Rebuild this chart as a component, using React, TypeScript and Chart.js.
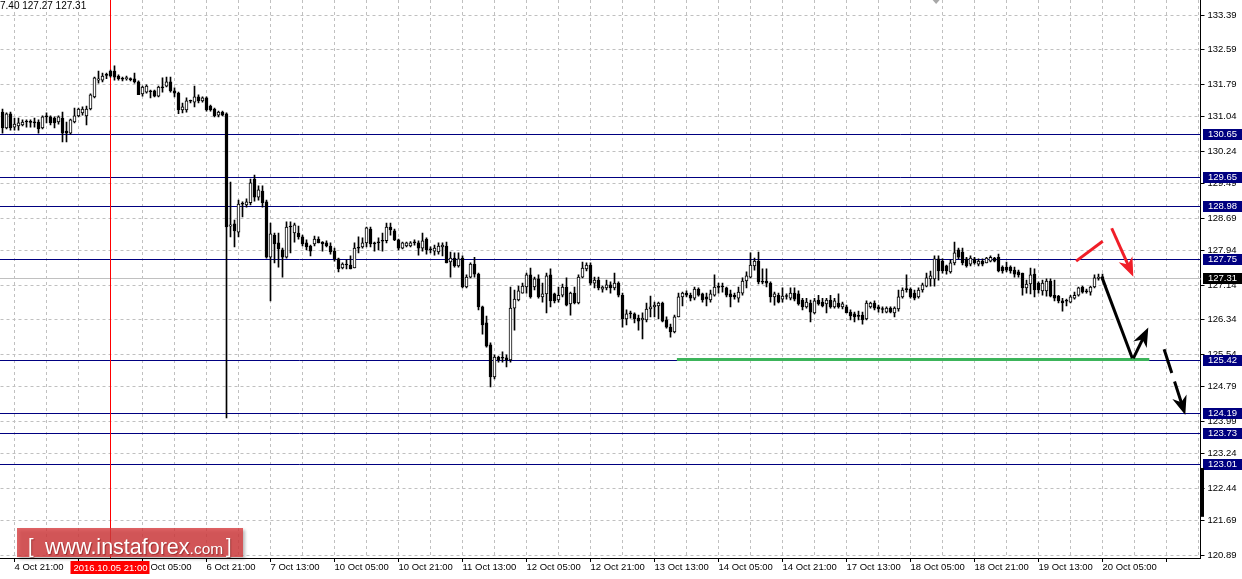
import { useEffect, useRef } from 'react';
import { Chart, registerables } from 'chart.js';

Chart.register(...registerables);

// ---------- data (GBPJPY H1, 4 Oct 18:00 -> 20 Oct 09:00) ----------
const openPrices = [
  131.15,130.78,131.11,130.80,130.83,130.85,130.92,130.92,130.90,130.92,
  130.78,131.04,131.04,131.01,130.92,131.01,130.71,130.66,130.92,131.06,
  131.13,131.06,131.22,131.50,131.89,131.89,132.00,132.10,132.10,131.98,
  131.92,131.92,131.92,131.92,131.85,131.57,131.61,131.64,131.64,131.52,
  131.73,131.75,131.85,131.64,131.59,131.20,131.20,131.40,131.38,131.50,
  131.41,131.48,131.29,131.22,131.08,131.15,131.11,128.51,128.56,128.37,
  129.02,129.00,129.05,129.60,129.18,129.32,129.07,127.79,128.30,128.12,
  127.96,127.79,128.51,128.35,128.35,128.26,128.12,128.05,128.10,128.21,
  128.14,128.12,128.05,127.93,127.75,127.54,127.62,127.61,127.54,128.00,
  128.03,128.12,128.44,128.10,128.12,128.16,128.17,128.49,128.40,128.19,
  128.00,128.05,128.05,128.12,128.12,128.00,128.21,127.96,127.93,127.91,
  128.03,128.05,127.68,127.77,127.59,127.77,127.10,127.33,127.63,127.40,
  126.64,126.27,125.76,125.02,125.48,125.45,125.46,125.41,126.61,126.80,
  126.96,127.10,127.38,127.10,127.29,126.87,126.94,127.38,126.94,126.80,
  126.91,127.10,126.71,126.96,126.73,127.33,127.52,127.61,127.19,127.26,
  127.05,127.08,127.15,127.08,127.19,126.91,126.36,126.48,126.48,126.38,
  126.34,126.34,126.59,126.64,126.66,126.73,126.34,126.17,126.06,126.41,
  126.87,126.96,126.91,126.84,127.05,126.94,126.87,126.80,126.91,127.10,
  127.10,127.08,126.94,126.91,126.84,126.96,127.24,127.33,127.59,127.70,
  127.21,127.24,127.19,126.87,126.91,126.82,126.88,126.84,126.96,126.94,
  126.80,126.64,126.73,126.50,126.80,126.75,126.71,126.80,126.64,126.73,
  126.64,126.64,126.52,126.48,126.43,126.45,126.36,126.64,126.73,126.64,
  126.59,126.52,126.61,126.50,126.59,126.87,127.04,127.05,126.96,126.87,
  127.03,127.12,127.29,127.29,127.75,127.70,127.59,127.45,127.66,127.96,
  127.91,127.75,127.63,127.75,127.63,127.70,127.66,127.70,127.77,127.79,
  127.56,127.56,127.56,127.49,127.45,127.42,127.08,127.17,127.40,127.19,
  127.01,127.01,127.24,126.91,126.89,126.78,126.77,126.75,126.84,126.91,
  127.10,126.99,126.98,127.10,127.30,127.33,
];
const highPrices = [
  131.22,131.13,131.15,131.01,131.01,130.97,130.97,130.97,131.01,130.97,
  131.06,131.13,131.06,131.04,131.06,131.15,130.92,130.99,131.24,131.24,
  131.27,131.29,131.57,131.96,132.10,132.05,132.05,132.12,132.22,132.01,
  131.96,131.98,131.94,132.05,131.87,131.75,131.78,131.66,131.66,131.75,
  131.94,131.96,131.96,131.71,131.61,131.36,131.48,131.43,131.75,131.55,
  131.50,131.50,131.31,131.24,131.17,131.17,131.13,129.53,128.65,129.11,
  129.07,129.14,129.60,129.69,129.44,129.44,129.11,128.58,128.35,128.35,
  128.00,128.61,128.61,128.58,128.51,128.30,128.19,128.07,128.28,128.26,
  128.15,128.17,128.12,128.00,127.77,127.66,127.73,127.82,128.12,128.26,
  128.24,128.49,128.49,128.14,128.24,128.35,128.58,128.58,128.44,128.21,
  128.14,128.14,128.15,128.19,128.17,128.35,128.24,128.03,128.07,128.12,
  128.12,128.14,127.91,127.89,127.89,127.82,127.38,127.66,127.79,127.42,
  126.66,126.43,125.81,125.53,125.50,125.60,125.53,127.10,127.03,127.12,
  127.19,127.42,127.54,127.33,127.38,127.19,127.42,127.52,126.96,127.10,
  127.17,127.31,126.98,127.10,127.38,127.68,127.66,127.66,127.33,127.33,
  127.12,127.26,127.22,127.42,127.22,126.96,126.57,126.54,126.50,126.45,
  126.50,126.73,126.89,126.75,126.75,126.75,126.41,126.24,126.45,126.96,
  126.98,127.01,126.96,127.10,127.08,126.96,126.96,127.03,127.38,127.19,
  127.19,127.10,127.03,126.96,127.10,127.31,127.45,127.89,127.77,127.91,
  127.52,127.52,127.22,126.98,126.96,127.08,126.94,127.08,127.08,127.01,
  126.84,126.84,126.80,126.84,126.91,126.84,126.84,126.91,126.84,126.94,
  126.75,126.68,126.57,126.52,126.54,126.52,126.78,126.75,126.78,126.68,
  126.64,126.64,126.64,126.64,127.03,127.08,127.38,127.08,127.03,127.08,
  127.19,127.42,127.47,127.82,127.82,127.75,127.61,127.73,128.14,128.00,
  128.00,127.79,127.82,127.79,127.75,127.75,127.79,127.82,127.79,127.86,
  127.59,127.68,127.59,127.56,127.49,127.42,127.26,127.54,127.52,127.22,
  127.26,127.29,127.29,127.26,126.91,126.84,126.82,126.91,126.98,127.10,
  127.12,127.05,127.12,127.38,127.40,127.40,
];
const lowPrices = [
  130.66,130.76,130.73,130.73,130.73,130.83,130.80,130.80,130.80,130.66,
  130.76,130.90,130.85,130.78,130.87,130.46,130.46,130.64,130.90,131.04,
  131.08,130.85,131.20,131.48,131.82,131.85,131.92,131.96,131.89,131.89,
  131.87,131.89,131.87,131.82,131.55,131.52,131.59,131.48,131.50,131.50,
  131.61,131.73,131.61,131.50,131.11,131.13,131.15,131.36,131.27,131.36,
  131.38,131.17,131.17,131.04,131.04,131.06,124.07,128.26,128.03,128.26,
  128.72,128.95,129.00,129.09,129.11,128.95,127.77,126.78,127.66,127.56,
  127.33,127.77,127.89,128.14,128.21,128.05,127.96,127.82,128.05,128.12,
  127.93,128.03,127.86,127.70,127.45,127.52,127.52,127.52,127.54,127.89,
  128.00,128.03,128.03,127.93,127.96,127.93,128.12,128.30,128.17,127.96,
  127.98,128.03,128.03,128.07,127.84,127.93,127.86,127.89,127.84,127.86,
  127.82,127.66,127.33,127.56,127.56,127.08,127.08,127.31,127.33,126.57,
  126.01,125.71,124.79,124.97,125.36,125.36,125.25,125.36,126.10,126.78,
  126.96,126.96,126.84,127.03,126.84,126.75,126.50,126.64,126.73,126.75,
  126.87,126.66,126.45,126.71,126.71,127.31,127.47,127.15,127.08,127.03,
  126.98,127.03,126.96,127.03,126.87,126.17,126.22,126.38,126.27,126.10,
  125.90,126.29,126.41,126.41,126.36,126.29,126.15,125.94,126.04,126.41,
  126.66,126.87,126.78,126.80,126.89,126.75,126.66,126.75,126.89,126.96,
  126.98,126.87,126.64,126.82,126.75,126.91,127.08,127.31,127.49,127.17,
  127.17,127.10,126.75,126.68,126.73,126.75,126.82,126.80,126.78,126.68,
  126.57,126.61,126.29,126.48,126.68,126.64,126.50,126.61,126.61,126.61,
  126.59,126.50,126.34,126.29,126.34,126.24,126.34,126.61,126.57,126.52,
  126.50,126.50,126.50,126.41,126.54,126.84,126.98,126.84,126.80,126.84,
  126.98,127.10,127.12,127.12,127.26,127.42,127.40,127.42,127.61,127.75,
  127.61,127.56,127.59,127.63,127.59,127.59,127.66,127.68,127.68,127.45,
  127.42,127.45,127.42,127.33,127.33,126.91,126.96,126.94,126.87,126.96,
  126.91,126.89,126.87,126.78,126.73,126.54,126.66,126.73,126.82,126.89,
  126.96,126.96,126.91,127.08,127.26,127.27,
];
const closePrices = [
  130.78,131.11,130.78,130.87,130.90,130.92,130.92,130.91,130.92,130.76,
  131.04,131.04,130.90,130.90,131.04,130.66,130.66,130.97,131.06,131.22,
  131.22,131.22,131.55,131.94,131.92,131.98,132.01,131.98,131.96,131.92,
  131.91,131.95,131.90,131.85,131.55,131.73,131.75,131.62,131.52,131.73,
  131.71,131.85,131.64,131.59,131.20,131.27,131.41,131.41,131.50,131.41,
  131.48,131.20,131.20,131.06,131.15,131.08,128.49,128.54,128.40,129.02,
  129.03,129.07,129.51,129.18,129.35,129.05,127.79,128.33,128.10,127.98,
  127.79,128.49,128.49,128.54,128.26,128.10,128.03,127.93,128.21,128.12,
  128.10,128.05,127.91,127.75,127.52,127.63,127.61,127.52,128.00,128.00,
  128.12,128.47,128.10,128.12,128.13,128.17,128.49,128.42,128.19,128.00,
  128.12,128.12,128.12,128.13,128.00,128.17,127.96,127.97,128.00,128.05,
  128.07,127.66,127.77,127.59,127.75,127.10,127.33,127.63,127.40,126.64,
  126.22,125.73,125.02,125.48,125.41,125.46,125.41,126.61,126.82,127.01,
  127.12,127.38,126.87,127.29,126.87,126.94,127.36,126.78,126.78,126.91,
  127.10,126.68,126.96,126.73,127.33,127.54,127.61,127.19,127.26,127.08,
  127.10,127.15,127.08,127.19,126.91,126.36,126.48,126.49,126.36,126.31,
  126.38,126.59,126.64,126.68,126.73,126.31,126.17,126.06,126.41,126.87,
  126.96,126.91,126.84,127.05,126.91,126.80,126.82,126.94,127.10,127.09,
  127.10,126.91,126.87,126.87,126.98,127.24,127.36,127.61,127.70,127.22,
  127.22,127.19,126.87,126.94,126.75,126.89,126.88,126.96,126.82,126.71,
  126.64,126.75,126.52,126.78,126.71,126.66,126.80,126.64,126.78,126.64,
  126.71,126.50,126.43,126.41,126.42,126.34,126.73,126.73,126.61,126.59,
  126.58,126.61,126.52,126.61,126.87,127.03,127.05,126.87,126.84,127.03,
  127.15,127.31,127.36,127.75,127.47,127.47,127.47,127.66,127.89,127.79,
  127.66,127.59,127.77,127.66,127.70,127.63,127.77,127.79,127.70,127.47,
  127.47,127.49,127.47,127.40,127.38,127.08,127.17,127.38,127.03,127.03,
  127.19,127.24,126.89,126.84,126.78,126.73,126.78,126.87,126.91,127.08,
  126.98,127.00,127.10,127.31,127.33,127.31,
];

// time axis: one slot per hour, labels every 16 bars starting at slot 3
const SLOT_COUNT = 300;
const FIRST_LABEL_SLOT = 3;
const LABEL_STEP = 16;
const GRID_STEP = 8;
const xTickLabels = [
  '4 Oct 21:00', '5 Oct 13:00', '6 Oct 05:00', '6 Oct 21:00', '7 Oct 13:00',
  '10 Oct 05:00', '10 Oct 21:00', '11 Oct 13:00', '12 Oct 05:00', '12 Oct 21:00',
  '13 Oct 13:00', '14 Oct 05:00', '14 Oct 21:00', '17 Oct 13:00', '18 Oct 05:00',
  '18 Oct 21:00', '19 Oct 13:00', '20 Oct 05:00',
];
const yTickValues = [
  133.39, 132.59, 131.79, 131.04, 130.24, 129.49, 128.69, 127.94, 127.14,
  126.34, 125.54, 124.79, 123.99, 123.24, 122.44, 121.69, 120.89,
];
const Y_MIN = 120.827;
const Y_MAX = 133.744;

const levelPrices = [130.65, 129.65, 128.98, 127.75, 125.42, 124.19, 123.73, 123.01];
const currentPrice = 127.31;
const markerSlot = 27; // 2016.10.05 21:00
const markerLabel = '2016.10.05 21:00';
const supportSegment = [[168.6, 125.42], [286.7, 125.42]];
const blackDrop = [[274.8, 127.34], [282.45, 125.45]];
const blackBounce = [[282.7, 125.45], [286.45, 126.16]];
const blackBreak = [[290.4, 125.66], [295.7, 124.14]];
const redTick = [[268.4, 127.70], [275.05, 128.16]];
const redArrow = [[277.3, 128.46], [282.7, 127.34]];
const axisBar = [122.91, 121.78];

const FONT = '"Liberation Sans", Arial, sans-serif';
const NAVY = '#000080';

const slotLabels = Array.from({ length: SLOT_COUNT }, (_, i) => {
  const k = (i - FIRST_LABEL_SLOT) / LABEL_STEP;
  return Number.isInteger(k) && k >= 0 && k < xTickLabels.length ? xTickLabels[k] : '';
});

function drawArrow(
  ctx: CanvasRenderingContext2D,
  x1: number, y1: number, x2: number, y2: number,
  color: string, width: number, head: boolean, dash: number[] = []
) {
  const ang = Math.atan2(y2 - y1, x2 - x1);
  const headLen = 19;
  const headW = 7.5;
  const ex = head ? x2 - Math.cos(ang) * headLen * 0.6 : x2;
  const ey = head ? y2 - Math.sin(ang) * headLen * 0.6 : y2;
  ctx.save();
  ctx.strokeStyle = color;
  ctx.fillStyle = color;
  ctx.lineWidth = width;
  ctx.lineCap = 'butt';
  ctx.setLineDash(dash);
  ctx.beginPath();
  ctx.moveTo(x1, y1);
  ctx.lineTo(ex, ey);
  ctx.stroke();
  ctx.setLineDash([]);
  if (head) {
    const bx = x2 - Math.cos(ang) * headLen;
    const by = y2 - Math.sin(ang) * headLen;
    const px = -Math.sin(ang) * headW;
    const py = Math.cos(ang) * headW;
    ctx.beginPath();
    ctx.moveTo(x2, y2);
    ctx.lineTo(bx + px, by + py);
    ctx.lineTo(x2 - Math.cos(ang) * headLen * 0.7, y2 - Math.sin(ang) * headLen * 0.7);
    ctx.lineTo(bx - px, by - py);
    ctx.closePath();
    ctx.fill();
  }
  ctx.restore();
}

const overlayPlugin = {
  id: 'mt4Overlay',
  beforeDatasetsDraw(chart: any) {
    const { ctx, chartArea: a, scales } = chart;
    const x = scales.x;
    const y = scales.y;
    ctx.save();
    ctx.lineWidth = 1;
    // current price line
    const cy = Math.round(y.getPixelForValue(currentPrice)) + 0.5;
    ctx.strokeStyle = '#c0c0c0';
    ctx.beginPath();
    ctx.moveTo(a.left - 1, cy);
    ctx.lineTo(a.right, cy);
    ctx.stroke();
    // levels
    ctx.strokeStyle = NAVY;
    levelPrices.forEach((p) => {
      const py = Math.round(y.getPixelForValue(p)) + 0.5;
      ctx.beginPath();
      ctx.moveTo(a.left - 1, py);
      ctx.lineTo(a.right, py);
      ctx.stroke();
    });
    // vertical marker
    const mx = x.getPixelForValue(markerSlot);
    ctx.strokeStyle = '#ff0000';
    ctx.beginPath();
    ctx.moveTo(mx, a.top);
    ctx.lineTo(mx, a.bottom);
    ctx.stroke();
    ctx.restore();
  },
  afterDatasetsDraw(chart: any) {
    const { ctx, scales } = chart;
    const x = scales.x;
    const y = scales.y;
    const P = (pt: number[]) => [x.getPixelForValue(pt[0]), y.getPixelForValue(pt[1])];
    // support segment
    const [s1, s2] = supportSegment.map(P);
    ctx.save();
    ctx.strokeStyle = '#3cb45a';
    ctx.lineWidth = 3;
    ctx.beginPath();
    ctx.moveTo(s1[0], s1[1]);
    ctx.lineTo(s2[0], s2[1]);
    ctx.stroke();
    ctx.restore();
    const seg = (arr: number[][], color: string, head: boolean, dash: number[] = []) => {
      const [p1, p2] = arr.map(P);
      drawArrow(ctx, p1[0], p1[1], p2[0], p2[1], color, 3, head, dash);
    };
    seg(blackDrop, '#000', false);
    seg(blackBounce, '#000', true);
    seg(blackBreak, '#000', true, [25, 9]);
    seg(redTick, '#f01e28', false);
    seg(redArrow, '#f01e28', true);
  },
  afterDraw(chart: any) {
    const { ctx, chartArea: a, scales } = chart;
    const x = scales.x;
    const y = scales.y;
    ctx.save();
    // axis labels of levels
    ctx.font = `9.5px ${FONT}`;
    ctx.textBaseline = 'middle';
    ctx.textAlign = 'left';
    const box = (p: number, bg: string) => {
      const py = Math.round(y.getPixelForValue(p));
      ctx.fillStyle = bg;
      ctx.fillRect(Math.round(a.right) + 2, py - 5, 39, 11);
      ctx.fillStyle = '#fff';
      ctx.fillText(p.toFixed(2), Math.round(a.right) + 7, py + 0.5);
    };
    levelPrices.forEach((p) => box(p, NAVY));
    box(currentPrice, '#000');
    // black bar on the price axis
    const b1 = y.getPixelForValue(axisBar[0]);
    const b2 = y.getPixelForValue(axisBar[1]);
    ctx.fillStyle = '#000';
    ctx.fillRect(Math.round(a.right), b1, 3, b2 - b1);
    // marker date label
    const mx = x.getPixelForValue(markerSlot);
    ctx.fillStyle = '#ff0000';
    ctx.fillRect(mx - 40, a.bottom + 3, 79, 13);
    ctx.fillStyle = '#fff';
    ctx.textAlign = 'center';
    ctx.fillText(markerLabel, mx, a.bottom + 10);
    // chart shift marker
    const sx = x.getPixelForValue(233.4);
    ctx.fillStyle = '#a8a8a8';
    ctx.beginPath();
    ctx.moveTo(sx - 3.5, a.top);
    ctx.lineTo(sx + 3.5, a.top);
    ctx.lineTo(sx, a.top + 4);
    ctx.closePath();
    ctx.fill();
    // top-left OHLC text (clipped at the left edge)
    const last = closePrices.length - 1;
    const ohlc = `${highPrices[last].toFixed(2)} ${lowPrices[last].toFixed(2)} ${closePrices[last].toFixed(2)}`;
    ctx.fillStyle = '#000';
    ctx.textAlign = 'left';
    ctx.font = `10px ${FONT}`;
    ctx.fillText(ohlc, -ctx.measureText('12').width, a.top + 6);
    // watermark
    ctx.save();
    ctx.shadowColor = 'rgba(0,0,0,0.35)';
    ctx.shadowBlur = 3;
    ctx.shadowOffsetX = 2;
    ctx.shadowOffsetY = 2;
    ctx.fillStyle = 'rgba(215,60,62,0.8)';
    ctx.fillRect(17, a.bottom - 30, 226, 29);
    ctx.restore();
    ctx.save();
    ctx.shadowColor = 'rgba(90,0,0,0.45)';
    ctx.shadowBlur = 1;
    ctx.shadowOffsetX = 1;
    ctx.shadowOffsetY = 1;
    ctx.fillStyle = '#fff';
    ctx.textAlign = 'left';
    ctx.textBaseline = 'alphabetic';
    ctx.font = `20px ${FONT}`;
    ctx.fillText('[', 28, a.bottom - 5);
    ctx.font = `21.5px ${FONT}`;
    ctx.fillText('www.instaforex', 45, a.bottom - 4);
    const w = ctx.measureText('www.instaforex').width;
    ctx.font = `15.5px ${FONT}`;
    ctx.fillText('.com', 45 + w, a.bottom - 4);
    ctx.font = `20px ${FONT}`;
    ctx.fillText(']', 226, a.bottom - 5);
    ctx.restore();
    ctx.restore();
  },
};

export default function App() {
  const ref = useRef<HTMLCanvasElement>(null);
  useEffect(() => {
    document.body.style.margin = '0';
    Chart.defaults.font.family = FONT;
    const chart = new Chart(ref.current as HTMLCanvasElement, {
      type: 'bar',
      data: {
        labels: slotLabels,
        datasets: [
          {
            label: 'body',
            data: openPrices.map((o, i) => [o, closePrices[i]]) as any,
            backgroundColor: (c: any) => {
              const i = c.dataIndex;
              return closePrices[i] - openPrices[i] > 0.025 ? '#ffffff' : '#000000';
            },
            borderColor: '#000',
            borderWidth: 1,
            borderSkipped: false,
            barThickness: 3,
            minBarLength: 1,
            grouped: false,
            order: 1,
          } as any,
          {
            label: 'wick',
            data: lowPrices.map((l, i) => [l, highPrices[i]]) as any,
            backgroundColor: '#000',
            borderWidth: 0,
            barThickness: 1,
            minBarLength: 1,
            grouped: false,
            order: 2,
          } as any,
        ],
      },
      options: {
        animation: false,
        responsive: false,
        devicePixelRatio: 1,
        layout: { padding: { left: 0.5, right: 0, top: 0, bottom: 0 } },
        plugins: { legend: { display: false }, tooltip: { enabled: false } },
        scales: {
          x: {
            type: 'category',
            offset: true,
            grid: {
              offset: false,
              color: (c: any) => (c.index % GRID_STEP === FIRST_LABEL_SLOT % GRID_STEP ? '#c0c0c0' : 'rgba(0,0,0,0)'),
              tickColor: (c: any) => (c.index % LABEL_STEP === FIRST_LABEL_SLOT ? '#000' : 'rgba(0,0,0,0)'),
              tickLength: 4,
              lineWidth: 1,
            },
            border: { color: '#000', dash: [3, 3] },
            ticks: {
              autoSkip: false,
              maxRotation: 0,
              minRotation: 0,
              align: 'start',
              padding: 0,
              color: '#000',
              font: { family: FONT, size: 9.5 },
            },
            afterFit: (s: any) => {
              s.height = 21;
              s.paddingLeft = 0;
              s.paddingRight = 0;
            },
          } as any,
          y: {
            type: 'linear',
            position: 'right',
            min: Y_MIN,
            max: Y_MAX,
            afterBuildTicks: (s: any) => {
              s.ticks = yTickValues.map((v) => ({ value: v }));
            },
            grid: { color: '#c0c0c0', tickColor: '#000', tickLength: 4, lineWidth: 1 },
            border: { color: '#000', dash: [3, 3] },
            ticks: {
              autoSkip: false,
              padding: 3,
              color: '#000',
              font: { family: FONT, size: 9.5 },
              callback: (v: any) => Number(v).toFixed(2),
            },
            afterFit: (s: any) => {
              s.width = 41.5;
              s.paddingTop = 0;
              s.paddingBottom = 0;
            },
          } as any,
        },
      },
      plugins: [overlayPlugin],
    });
    return () => chart.destroy();
  }, []);
  return (
    <div style={{ position: 'absolute', left: 0, top: 0, width: 1242, height: 579, background: '#fff' }}>
      <canvas ref={ref} width={1242} height={579} style={{ display: 'block', width: 1242, height: 579 }} />
    </div>
  );
}
